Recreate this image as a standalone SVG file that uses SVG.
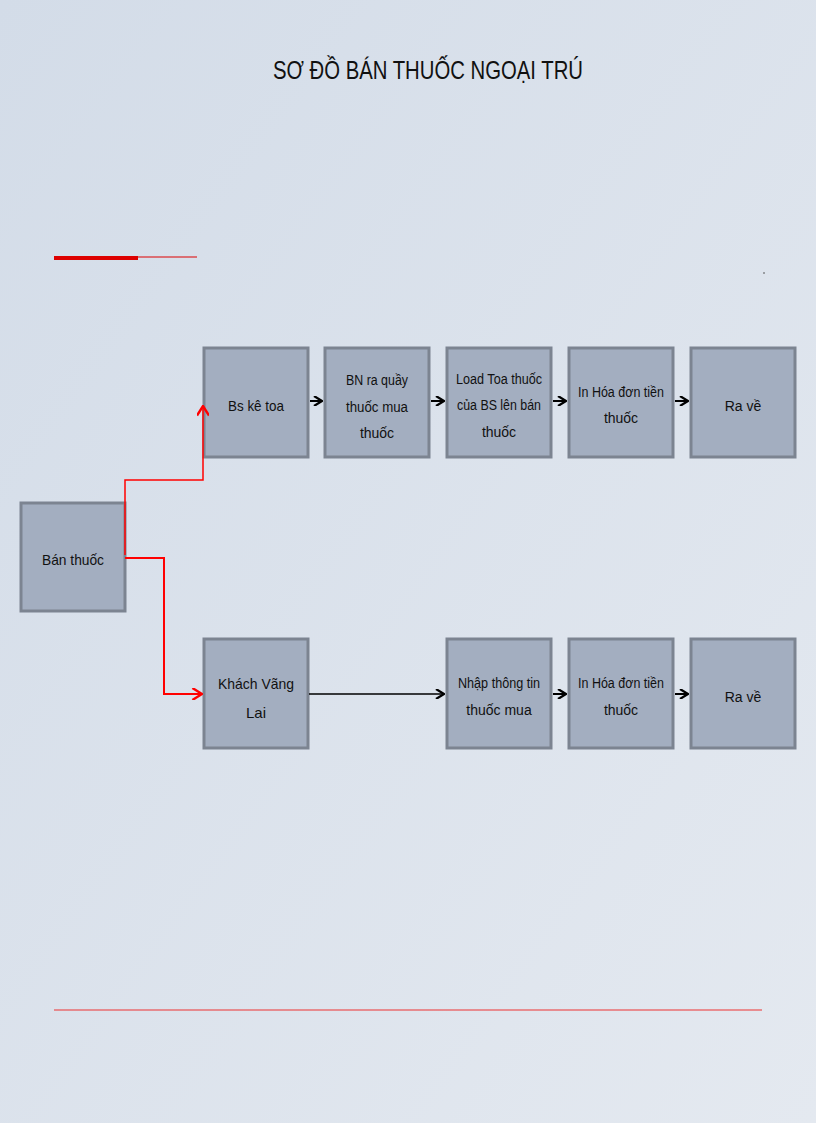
<svg xmlns="http://www.w3.org/2000/svg" width="816" height="1123" viewBox="0 0 816 1123">
<defs>
<linearGradient id="bg" x1="0" y1="0" x2="1" y2="1"><stop offset="0" stop-color="#d3dce8"/><stop offset="1" stop-color="#e4e9f0"/></linearGradient>
<marker id="ab" viewBox="0 0 10 10" refX="9" refY="5" markerWidth="10" markerHeight="10" markerUnits="userSpaceOnUse" orient="auto"><path d="M1,0 L9,5 L1,10" fill="none" stroke="#000" stroke-width="2.2"/></marker>
<marker id="ar" viewBox="0 0 10 10" refX="9" refY="5" markerWidth="12" markerHeight="12" markerUnits="userSpaceOnUse" orient="auto"><path d="M1,0 L9,5 L1,10" fill="none" stroke="#f00" stroke-width="2"/></marker>
</defs>
<style>
.n rect{fill:#a3aec0;stroke:#7c8491;stroke-width:3}
.n text{font-family:"Liberation Sans",Arial,sans-serif;font-size:15px;fill:#111;text-anchor:middle}
.n text.s{font-size:14px}
</style>
<rect width="816" height="1123" fill="url(#bg)"/>
<text x="428" y="79" font-family="Liberation Sans,Arial,sans-serif" font-size="25" text-anchor="middle" textLength="310" lengthAdjust="spacingAndGlyphs" fill="#111">SƠ ĐỒ BÁN THUỐC NGOẠI TRÚ</text>
<line x1="54" y1="258" x2="138" y2="258" stroke="#d00" stroke-width="4"/>
<line x1="138" y1="257" x2="197" y2="257" stroke="#d00" stroke-width="1.2"/>
<line x1="54" y1="1010" x2="762" y2="1010" stroke="#e33" stroke-width="1.2"/>
<circle cx="764" cy="273" r="0.8" fill="#444"/>
<g id="ban-thuoc" class="n"><rect x="21" y="503" width="104" height="108"/><text x="73" y="565" textLength="62" lengthAdjust="spacingAndGlyphs" font-size="18">Bán thuốc</text></g>
<g id="bs-ke-toa" class="n"><rect x="204" y="348" width="104" height="109"/><text x="256" y="411" textLength="56" lengthAdjust="spacingAndGlyphs" font-size="18">Bs kê toa</text></g>
<g id="bn-ra-quay" class="n"><rect x="325" y="348" width="104" height="109"/><text class="s" x="377" y="385" textLength="62" lengthAdjust="spacingAndGlyphs">BN ra quầy</text><text class="s" x="377" y="412" textLength="62" lengthAdjust="spacingAndGlyphs">thuốc  mua</text><text class="s" x="377" y="438">thuốc</text></g>
<g id="load-toa" class="n"><rect x="447" y="348" width="104" height="109"/><text class="s" x="499" y="384" textLength="86" lengthAdjust="spacingAndGlyphs">Load Toa thuốc</text><text class="s" x="499" y="410" textLength="84" lengthAdjust="spacingAndGlyphs">của BS lên bán</text><text class="s" x="499" y="437">thuốc</text></g>
<g id="in-hoa-don-1" class="n"><rect x="569" y="348" width="104" height="109"/><text class="s" x="621" y="397" textLength="86" lengthAdjust="spacingAndGlyphs">In Hóa đơn tiền</text><text class="s" x="621" y="423">thuốc</text></g>
<g id="ra-ve-1" class="n"><rect x="691" y="348" width="104" height="109"/><text class="s" x="743" y="411">Ra về</text></g>
<g id="khach-vang-lai" class="n"><rect x="204" y="639" width="104" height="109"/><text x="256" y="689" textLength="76" lengthAdjust="spacingAndGlyphs" font-size="18">Khách Vãng</text><text x="256" y="718" font-size="18">Lai</text></g>
<g id="nhap-thong-tin" class="n"><rect x="447" y="639" width="104" height="109"/><text class="s" x="499" y="688" textLength="82" lengthAdjust="spacingAndGlyphs">Nhập thông tin</text><text class="s" x="499" y="715">thuốc mua</text></g>
<g id="in-hoa-don-2" class="n"><rect x="569" y="639" width="104" height="109"/><text class="s" x="621" y="688" textLength="86" lengthAdjust="spacingAndGlyphs">In Hóa đơn tiền</text><text class="s" x="621" y="715">thuốc</text></g>
<g id="ra-ve-2" class="n"><rect x="691" y="639" width="104" height="109"/><text class="s" x="743" y="702">Ra về</text></g>
<g id="connectors" fill="none">
<path d="M125,555 V480 H203 V406" stroke="#f00" stroke-width="1.5" marker-end="url(#ar)"/>
<path d="M125,558 H164 V694 H202" stroke="#f00" stroke-width="2" marker-end="url(#ar)"/>
<line x1="310" y1="401" x2="322" y2="401" stroke="#000" stroke-width="2" marker-end="url(#ab)"/>
<line x1="431" y1="401" x2="444" y2="401" stroke="#000" stroke-width="2" marker-end="url(#ab)"/>
<line x1="553" y1="401" x2="566" y2="401" stroke="#000" stroke-width="2" marker-end="url(#ab)"/>
<line x1="675" y1="401" x2="688" y2="401" stroke="#000" stroke-width="2" marker-end="url(#ab)"/>
<line x1="309" y1="694" x2="444" y2="694" stroke="#000" stroke-width="1.3" marker-end="url(#ab)"/>
<line x1="553" y1="694" x2="566" y2="694" stroke="#000" stroke-width="2" marker-end="url(#ab)"/>
<line x1="675" y1="694" x2="688" y2="694" stroke="#000" stroke-width="2" marker-end="url(#ab)"/>
</g>
</svg>
